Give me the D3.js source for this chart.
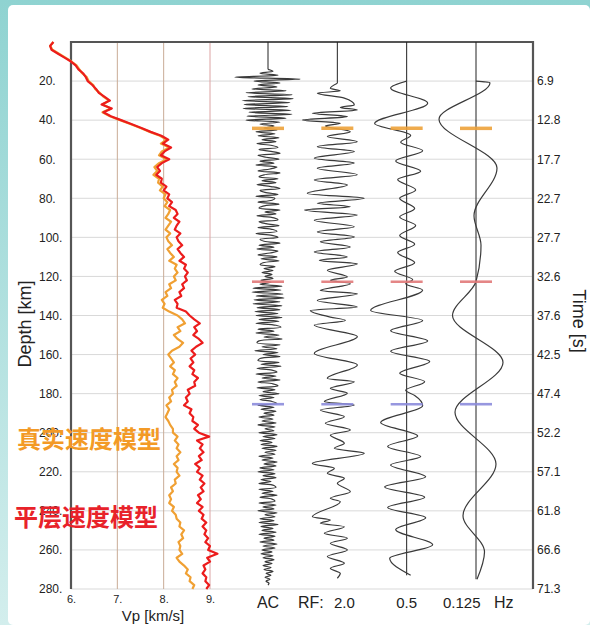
<!DOCTYPE html>
<html>
<head>
<meta charset="UTF-8">
<style>
  body { margin: 0; background: #fff; }
  svg { display: block; }
  text { font-family: "Liberation Sans", Arial, sans-serif; fill: #222; }
  .cn { font-family: "Noto Sans CJK SC", sans-serif; font-weight: bold; }
</style>
</head>
<body>
<svg></svg>
<script src="https://d3js.org/d3.v7.min.js"></script>
<script>

// ---- data ----
const depthTicks = [20, 40, 60, 80, 100, 120, 140, 160, 180, 200, 220, 240, 260, 280];
const timeLabels = ["6.9", "12.8", "17.7", "22.7", "27.7", "32.6", "37.6", "42.5", "47.4", "52.2", "57.1", "61.8", "66.6", "71.3"];
const vpTicks = [6, 7, 8, 9];
const traceNames = ["AC", "RF", "0.5", "0.125"];

// velocity profiles, sampled every 2 km from 0 to 280 km
const vpDepth = d3.range(0, 281, 2);
const vpLayered = [
  5.62,5.55,5.58,5.72,5.86,6.00,6.10,6.16,6.26,6.32,
  6.36,6.46,6.54,6.60,6.72,6.84,6.66,6.88,6.70,6.86,
  7.08,7.30,7.52,7.72,7.95,8.10,7.98,8.16,8.02,7.94,
  8.12,7.96,7.86,7.92,7.84,7.96,7.94,8.06,8.00,8.12,
  8.08,8.18,8.12,8.26,8.30,8.22,8.34,8.28,8.24,8.36,
  8.28,8.32,8.40,8.30,8.36,8.44,8.34,8.48,8.44,8.52,
  8.46,8.50,8.40,8.44,8.34,8.38,8.24,8.30,8.28,8.48,
  8.56,8.66,8.78,8.66,8.72,8.64,8.76,8.84,8.70,8.60,
  8.68,8.58,8.64,8.56,8.66,8.62,8.74,8.66,8.68,8.52,
  8.56,8.48,8.52,8.44,8.60,8.56,8.64,8.62,8.74,8.66,
  8.76,8.98,8.72,8.84,8.78,8.86,8.76,8.82,8.68,8.78,
  8.72,8.84,8.78,8.88,8.80,8.86,8.74,8.80,8.72,8.84,
  8.76,8.86,8.82,8.92,8.84,8.92,8.88,8.96,8.90,9.00,
  8.96,9.16,8.94,9.00,8.86,8.90,8.84,8.92,8.90,8.98,
  8.92];
const vpTrue = [
  5.62,5.55,5.60,5.74,5.88,6.01,6.12,6.18,6.24,6.34,
  6.38,6.48,6.52,6.62,6.70,6.82,6.68,6.86,6.68,6.84,
  7.06,7.28,7.50,7.70,7.92,8.06,7.94,8.12,7.96,7.90,
  8.06,7.90,7.80,7.86,7.78,7.90,7.88,7.98,7.92,8.04,
  8.00,8.08,8.02,8.14,8.10,8.04,8.16,8.10,8.04,8.14,
  8.06,8.10,8.18,8.08,8.14,8.22,8.12,8.28,8.24,8.30,
  8.22,8.26,8.12,8.16,8.04,8.08,7.96,8.02,7.98,8.12,
  8.30,8.40,8.46,8.30,8.36,8.22,8.30,8.42,8.34,8.18,
  8.10,8.16,8.22,8.14,8.24,8.20,8.30,8.24,8.28,8.18,
  8.20,8.12,8.16,8.06,8.12,8.08,8.04,8.10,8.14,8.20,
  8.20,8.30,8.24,8.32,8.28,8.36,8.28,8.32,8.22,8.30,
  8.28,8.34,8.24,8.26,8.16,8.20,8.12,8.16,8.12,8.22,
  8.18,8.26,8.28,8.36,8.34,8.44,8.38,8.42,8.32,8.36,
  8.34,8.40,8.28,8.34,8.44,8.52,8.48,8.58,8.56,8.66,
  8.62];

// AC trace, every 1 km from 14 to 278 km
const acDepth = d3.range(14, 279);
const acAmp = [
  0,5,-8,10,-33,32,-14,12,-10,9,
  -16,18,-22,24,-20,25,-26,22,-24,20,
  -25,23,-19,24,-21,18,-22,12,-8,6,
  -4,9,-12,7,-10,11,-6,8,-11,4,
  10,-9,3,12,-10,-2,11,-8,6,-12,
  9,2,-10,12,-4,-9,10,-6,8,-11,
  3,12,-8,-3,10,-12,7,4,-10,11,
  -5,-9,12,-3,8,-11,6,10,-9,-2,
  11,-10,5,9,-12,4,10,-8,-4,12,
  -9,6,-11,10,2,-10,9,-7,11,-5,
  -8,7,-4,5,-6,4,-3,5,-7,3,
  -8,14,-15,13,-16,15,-12,16,-14,12,
  -15,14,-11,12,-13,10,-12,14,-9,11,
  -12,8,13,-10,6,-12,11,-4,14,-9,
  -11,12,-6,9,-13,10,-5,12,-8,-10,
  11,-7,13,-11,4,9,-12,8,-6,12,
  -10,5,10,-11,7,-5,11,-9,6,-8,
  4,9,-10,6,-7,8,-4,6,-9,5,
  -6,8,-10,7,-3,6,-9,9,-5,7,
  -8,4,-7,9,-6,8,-3,7,-9,5,
  -6,9,-4,8,-8,6,-10,7,-5,8,
  -7,3,-9,6,8,-9,5,-6,9,-8,
  4,7,-9,8,-5,6,-10,9,-3,7,
  -8,6,-9,10,-7,5,-6,8,-9,7,
  -4,6,-8,9,-5,7,-6,4,-7,5,
  -5,6,-3,4,-5,3,-4,5,-2,3,
  -3,2,-2,1,0];

// RF 2.0 Hz trace, turning points
const rfDepth = [21.1,23.7,25,26.2,28.7,32.2,33.5,34.8,36.5,38.2,39.9,41.6,43,45.9,48.4,51,53.6,56.1,59.5,62,
  64.6,68,70.6,73.2,77.5,80,82.6,84.3,86,88.6,91.2,94.6,97.2,99.8,102.3,104.9,107.5,110,111.8,113.5,
  116.9,120.3,122,123.7,127.2,128.9,132.3,135.7,137.4,140.8,142.5,144.9,150.8,159.4,165.3,172.2,173.9,177.3,179.8,184.1,
  185.8,188.4,191.8,195.2,198.6,201.2,205.4,208,210.5,215.7,218.2,220.8,223.3,225.9,230.2,233.6,235.3,243,244.7,246.4,
  248.1,251.5,254,256.6,260,263.4,266.8,269.4,272,274.5];
const rfAmp = [0,-7,3,-20,7,17,3,20,-25,10,-35,3,-12,13,-10,20,-20,17,-23,17,
  -20,20,-23,10,-30,27,-20,13,-33,20,-23,17,-20,17,-17,13,-23,10,-18,20,
  -10,10,-7,13,-17,20,-20,20,-27,-7,8,-23,20,-23,20,-10,17,-7,10,-13,
  17,-17,7,-12,13,-7,7,-3,27,-25,-3,-10,7,0,13,-7,3,-25,-7,-17,
  7,-13,10,-7,10,-10,7,-7,3,0];

// 0.5 Hz trace, turning points
const lowDepth = [20,23.5,31.3,41.7,47.8,51.3,55.7,60.9,66.1,70.4,75.7,80,85.2,89.6,93.9,99.1,103.5,107.8,113,117.4,
  121.7,123.8,127,137.4,142.6,147.8,153,158.3,163.5,169.6,173.9,178.3,180.9,186.1,194.8,201.7,207,212.2,216.5,222.6,
  227.8,233,238.3,243.5,249.6,257.4,264.3,273];
const lowAmp = [0,-16,21,-32,4,-6,16,-11,14,-9,9,-7,8,-7,9,-7,8,-9,8,-12,
  6,-1,16,-36,16,-16,21,-16,23,-7,18,-1,8,16,-26,11,-19,14,-16,19,
  -22,18,-19,19,-11,26,-17,4];

// 0.125 Hz trace, turning points
const vlowDepth = [20,20.8,39.5,64.5,89,104,122.6,140,164,189.5,216,242.5,261,275];
const vlowAmp = [0,14,-37,21,-2,5,0,-23.5,27,-21,20,-13,8.5,1];

// interface markers
const markDepth = [44.2, 122.7, 185.4];
const markColor = ["#eea23a", "#e27a7a", "#8c8cdc"];

// ---- layout ----
let width = 590, height = 625;
let svg = d3.select("svg").attr("width", width).attr("height", height);

let defs = svg.append("defs");
let grad = defs.append("linearGradient").attr("id", "bg").attr("x1", 0).attr("y1", 0).attr("x2", 0).attr("y2", 1);
grad.append("stop").attr("offset", "0%").attr("stop-color", "#8fd3d1");
grad.append("stop").attr("offset", "100%").attr("stop-color", "#d3eeed");
svg.append("rect").attr("width", width).attr("height", height).attr("fill", "url(#bg)");
svg.append("rect").attr("x", 8).attr("y", 5).attr("width", width - 8).attr("height", height - 5)
    .attr("rx", 5).attr("fill", "#fff");

let plotTop = 42, plotBottom = 589, plotLeft = 71, plotRight = 533;
let y = d3.scaleLinear().domain([0, 280]).range([plotTop, plotBottom]);
let xVp = d3.scaleLinear().domain([6, 9]).range([plotLeft, 210]);
let traceX = d3.scalePoint().domain(traceNames).range([268, 476]);
let amp = d3.scaleLinear().domain([-40, 40]).range([-40, 40]);

// grid
svg.append("g").selectAll("line").data(depthTicks).enter().append("line")
    .attr("x1", plotLeft).attr("x2", plotRight)
    .attr("y1", d => y(d)).attr("y2", d => y(d))
    .attr("stroke", "#d9d9d9").attr("stroke-width", 1);

svg.append("g").selectAll("line").data(vpTicks.slice(1)).enter().append("line")
    .attr("x1", d => xVp(d)).attr("x2", d => xVp(d))
    .attr("y1", plotTop).attr("y2", plotBottom)
    .attr("stroke", d => d === 9 ? "#dca3a3" : "#c9ab96").attr("stroke-width", 1);

// frame
svg.append("path")
    .attr("d", `M${plotLeft},${plotBottom}V${plotTop}H${plotRight}V${plotBottom}`)
    .attr("fill", "none").attr("stroke", "#555").attr("stroke-width", 2.2);

// trace reference lines
let traceEnd = {AC: y(acDepth[0]), RF: y(rfDepth[0]), "0.5": y(lowDepth[lowDepth.length - 1]), "0.125": y(vlowDepth[vlowDepth.length - 1])};
svg.append("g").selectAll("line").data(traceNames).enter().append("line")
    .attr("x1", d => traceX(d)).attr("x2", d => traceX(d))
    .attr("y1", plotTop).attr("y2", d => traceEnd[d])
    .attr("stroke", "#222").attr("stroke-width", 1);

// velocity profiles
let vpLine = (vals) => d3.line()
    .x((d, i) => xVp(vals[i]))
    .y(d => y(d))(vpDepth);

svg.append("path").attr("d", vpLine(vpTrue))
    .attr("fill", "none").attr("stroke", "#f0a033").attr("stroke-width", 2.2).attr("stroke-linejoin", "round");
svg.append("path").attr("d", vpLine(vpLayered))
    .attr("fill", "none").attr("stroke", "#ec1c1c").attr("stroke-width", 2.2).attr("stroke-linejoin", "round");

// seismic traces
function tracePath(name, depths, amps, curve) {
    let cx = traceX(name);
    return d3.line()
        .x((d, i) => cx + amp(amps[i]))
        .y(d => y(d))
        .curve(curve)(depths);
}

let traces = svg.append("g").attr("fill", "none").attr("stroke", "#3a3a3a").attr("stroke-width", 1.2);
traces.append("path").attr("d", tracePath("AC", acDepth, acAmp, d3.curveCatmullRom));
traces.append("path").attr("d", tracePath("RF", rfDepth, rfAmp, d3.curveMonotoneY));
traces.append("path").attr("d", tracePath("0.5", lowDepth, lowAmp, d3.curveMonotoneY));
traces.append("path").attr("d", tracePath("0.125", vlowDepth, vlowAmp, d3.curveMonotoneY));

// interface markers
markDepth.forEach((md, k) => {
    svg.append("g").selectAll("line").data(traceNames).enter().append("line")
        .attr("x1", d => traceX(d) - 16).attr("x2", d => traceX(d) + 16)
        .attr("y1", y(md)).attr("y2", y(md))
        .attr("stroke", markColor[k])
        .attr("stroke-width", k === 0 ? 3.5 : 2.6)
        .attr("opacity", 0.9);
});

// axes
svg.append("g")
    .attr("transform", `translate(${plotLeft},0)`)
    .call(d3.axisLeft(y).tickValues(depthTicks).tickSize(0).tickFormat(d => d + "."))
    .call(g => g.select(".domain").remove())
    .attr("font-size", 12).attr("font-family", "Liberation Sans, Arial, sans-serif").style("color", "#222")
    .selectAll("text").attr("text-anchor", "start").attr("x", -32);

svg.append("g")
    .attr("transform", `translate(${plotRight},0)`)
    .call(d3.axisRight(y).tickValues(depthTicks).tickSize(0).tickPadding(4).tickFormat((d, i) => timeLabels[i]))
    .call(g => g.select(".domain").remove())
    .attr("font-size", 12).attr("font-family", "Liberation Sans, Arial, sans-serif").style("color", "#222");

svg.append("g")
    .attr("transform", `translate(0,${plotBottom})`)
    .call(d3.axisBottom(xVp).tickValues(vpTicks).tickSize(0).tickPadding(6).tickFormat(d => d + "."))
    .call(g => g.select(".domain").remove())
    .attr("font-size", 11).attr("font-family", "Liberation Sans, Arial, sans-serif").style("color", "#222");

// axis titles
svg.append("text").attr("transform", "translate(31,324) rotate(-90)")
    .attr("text-anchor", "middle").attr("font-size", 18).text("Depth [km]");
svg.append("text").attr("transform", "translate(573,321) rotate(90)")
    .attr("text-anchor", "middle").attr("font-size", 18).text("Time [s]");
svg.append("text").attr("x", 153).attr("y", 621)
    .attr("text-anchor", "middle").attr("font-size", 15).text("Vp [km/s]");

// trace labels
let lab = svg.append("g");
lab.append("text").attr("x", traceX("AC")).attr("y", 608).attr("text-anchor", "middle").attr("font-size", 16).text("AC");
lab.append("text").attr("x", 298).attr("y", 608).attr("font-size", 16).text("RF:");
lab.append("text").attr("x", 334).attr("y", 608).attr("font-size", 15).text("2.0");
lab.append("text").attr("x", traceX("0.5")).attr("y", 608).attr("text-anchor", "middle").attr("font-size", 15).text("0.5");
lab.append("text").attr("x", 443).attr("y", 608).attr("font-size", 15).text("0.125");
lab.append("text").attr("x", 494).attr("y", 608).attr("font-size", 16).text("Hz");

// model legend (Chinese labels), pasted over the depth labels as in the figure
svg.append("text").attr("class", "cn").attr("x", 17).attr("y", 448)
    .attr("font-size", 24).style("fill", "#f39a26")
    .text("真实速度模型");
svg.append("text").attr("class", "cn").attr("x", 14).attr("y", 526)
    .attr("font-size", 24).style("fill", "#e8222a")
    .text("平层速度模型");

</script>
</body>
</html>
